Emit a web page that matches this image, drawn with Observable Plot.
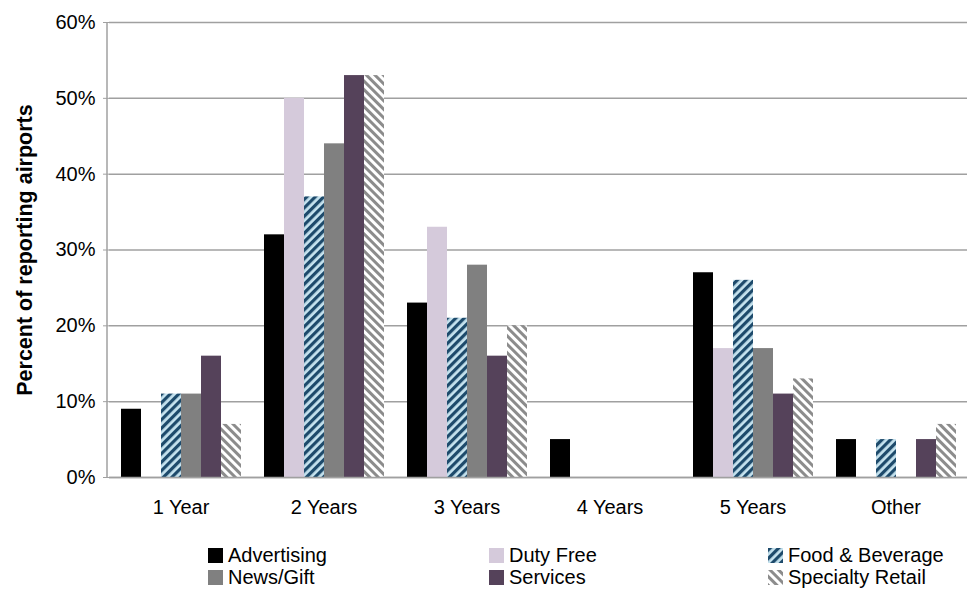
<!DOCTYPE html>
<html>
<head>
<meta charset="utf-8">
<script src="https://cdn.jsdelivr.net/npm/d3@7"></script>
<script src="https://cdn.jsdelivr.net/npm/@observablehq/plot@0.6"></script>
<style>
  body { margin: 0; background: #fff; font-family: "Liberation Sans", Arial, sans-serif; }
  #chart svg { display: block; }
  #legend { position: relative; height: 60px; font-size: 20px; color: #000; }
  .item { position: absolute; display: flex; align-items: center; gap: 5px; line-height: 22px; }
  .item svg { display: block; }
</style>
</head>
<body>
<svg width="0" height="0" style="position:absolute">
  <defs>
    <pattern id="pat-fb" patternUnits="userSpaceOnUse" width="6" height="6" patternTransform="rotate(45)">
      <rect width="6" height="6" fill="#c6e3ef"></rect>
      <rect width="3.2" height="6" fill="#1d4a6b"></rect>
    </pattern>
    <pattern id="pat-sr" patternUnits="userSpaceOnUse" width="6" height="6" patternTransform="rotate(-45)">
      <rect width="6" height="6" fill="#ffffff"></rect>
      <rect width="3" height="6" fill="#8c8c8c"></rect>
    </pattern>
  </defs>
</svg>
<div id="chart"></div>
<div id="legend"></div>
<script>
const categories = ["1 Year", "2 Years", "3 Years", "4 Years", "5 Years", "Other"];
const seriesNames = ["Advertising", "Duty Free", "Food & Beverage", "News/Gift", "Services", "Specialty Retail"];
const advertising     = [9, 32, 23, 5, 27, 5];
const dutyFree        = [0, 50, 33, 0, 17, 0];
const foodBeverage    = [11, 37, 21, 0, 26, 5];
const newsGift        = [11, 44, 28, 0, 17, 0];
const services        = [16, 53, 16, 0, 11, 5];
const specialtyRetail = [7, 53, 20, 0, 13, 7];
const yTicks = [0, 10, 20, 30, 40, 50, 60];

const seriesValues = [advertising, dutyFree, foodBeverage, newsGift, services, specialtyRetail];
const fills = ["#000000", "#d5cadb", "url(#pat-fb)", "#808080", "#55425a", "url(#pat-sr)"];

const rows = [];
categories.forEach((c, i) => seriesNames.forEach((s, j) => rows.push({cat: c, series: s, value: seriesValues[j][i]})));

const plot = Plot.plot({
  width: 968,
  height: 530,
  marginLeft: 107,
  marginRight: 0,
  marginTop: 22,
  marginBottom: 53,
  style: {fontFamily: "Liberation Sans, Arial, sans-serif", fontSize: "20px", color: "#000", background: "#fff"},
  fx: {domain: categories, padding: 0, label: null},
  x: {domain: seriesNames, paddingInner: 0.02, paddingOuter: 0.56, axis: null},
  y: {domain: [0, 60], label: null},
  color: {domain: seriesNames, range: fills},
  marks: [
    Plot.ruleY(yTicks, {stroke: "#a0a0a0", strokeWidth: 1.5}),
    Plot.barY(rows, {fx: "cat", x: "series", y: "value", fill: "series"}),
    Plot.ruleY([0], {stroke: "#a0a0a0", strokeWidth: 1.5}),
    Plot.axisY(yTicks, {anchor: "left", tickSize: 6, tickPadding: 8, stroke: "#a0a0a0", tickFormat: d => d + "%", fontSize: 20,
      label: "Percent of reporting airports", labelAnchor: "center", labelArrow: "none", labelOffset: 93}),
    Plot.axisFx({anchor: "bottom", tickSize: 0, tickPadding: 22, fontSize: 20, label: null})
  ]
});
document.getElementById("chart").appendChild(plot);

// vertical axis line on the left, placed from the y scale
const ys = plot.scale("y");
d3.select(plot).append("line")
  .attr("x1", 107).attr("x2", 107)
  .attr("y1", ys.range[0]).attr("y2", ys.range[1])
  .attr("stroke", "#a0a0a0").attr("stroke-width", 1.5);
d3.select(plot).selectAll('[aria-label="y-axis label"] text, [aria-label="y-axis label"]')
  .style("font-weight", "bold").style("font-size", "21.5px");

// legend
const legendPos = [[208, 14], [489, 14], [768, 14], [208, 36], [489, 36], [768, 36]];
const legend = document.getElementById("legend");
seriesNames.forEach((name, j) => {
  const div = document.createElement("div");
  div.className = "item";
  div.style.left = legendPos[j][0] + "px";
  div.style.top = legendPos[j][1] + "px";
  div.innerHTML = `<svg width="15" height="15"><rect width="15" height="15" fill="${fills[j]}"></rect></svg><span>${name}</span>`;
  legend.appendChild(div);
});
</script>
</body>
</html>
